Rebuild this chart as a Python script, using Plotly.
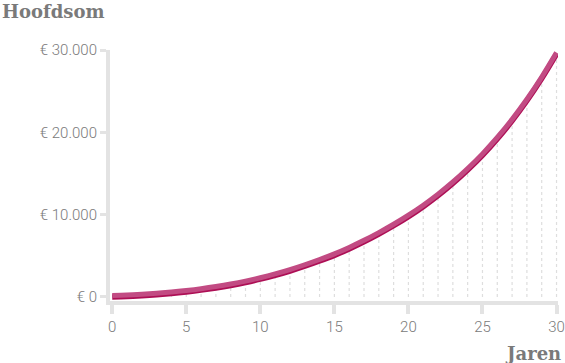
import plotly.graph_objects as go

years = list(range(0, 31))
hoofdsom = [0, 50, 135, 255, 410, 600, 820, 1080, 1385, 1740, 2150,
            2615, 3140, 3725, 4360, 5050, 5830, 6690, 7630, 8645, 9750,
            10965, 12305, 13785, 15415, 17200, 19190, 21390, 23830, 26530, 29500]

x_tickvals = [0, 5, 10, 15, 20, 25, 30]
y_tickvals = [0, 10000, 20000, 30000]
y_ticktext = ["€ 0", "€ 10.000", "€ 20.000", "€ 30.000"]

# dotted drop lines under the curve
dx, dy = [], []
for xv, yv in zip(years[1:], hoofdsom[1:]):
    dx += [xv, xv, None]
    dy += [0, yv, None]

Y_RANGE = [-500, 30000]
shift = 180  # ~1.5px vertical offset for the lighter stroke

W, H = 565, 363
L, R, T, B = 110, 7, 50, 62
PW, PH = W - L - R, H - T - B

fig = go.Figure()
fig.add_trace(go.Scatter(x=dx, y=dy, mode="lines",
                         line=dict(color="#dedede", width=1.2, dash="dot"),
                         hoverinfo="skip", showlegend=False))
fig.add_trace(go.Scatter(x=years, y=hoofdsom, mode="lines",
                         line=dict(color="#ad0f55", width=5.5, shape="spline"),
                         showlegend=False))
fig.add_trace(go.Scatter(x=years, y=hoofdsom, mode="lines", yaxis="y2",
                         line=dict(color="#c24b83", width=5, shape="spline"),
                         showlegend=False))

fig.update_layout(
    width=W, height=H,
    margin=dict(l=L, r=R, t=T, b=B, autoexpand=False),
    paper_bgcolor="white", plot_bgcolor="white",
    font=dict(family="Roboto", size=15, color="#7d7d7d"),
    xaxis=dict(range=[-0.15, 30.1], tickvals=x_tickvals,
               showgrid=False, zeroline=False, automargin=False,
               showline=True, linecolor="#e3e3e3", linewidth=4,
               ticks="outside", ticklen=9, tickwidth=4, tickcolor="#e3e3e3",
               ticklabeloverflow="allow",
               tickfont=dict(size=15, color="#7a7a7a", weight=300)),
    yaxis=dict(range=Y_RANGE, tickvals=y_tickvals, ticktext=y_ticktext,
               showgrid=False, zeroline=False, automargin=False,
               showline=True, linecolor="#e3e3e3", linewidth=4,
               ticks="outside", ticklen=6, tickwidth=3, tickcolor="#e3e3e3",
               tickfont=dict(size=15, color="#7a7a7a", weight=300)),
    yaxis2=dict(range=[Y_RANGE[0] - shift, Y_RANGE[1] - shift], overlaying="y",
                visible=False),
    annotations=[
        dict(text="<b>Hoofdsom</b>", xref="paper", yref="paper",
             x=-L / PW, y=1 + (T - 12) / PH, xanchor="left", yanchor="middle",
             showarrow=False,
             font=dict(family="DejaVu Serif", size=18, color="#7a7a7a")),
        dict(text="<b>Jaren</b>", xref="paper", yref="paper",
             x=(563 - L) / PW, y=-(353 - (H - B)) / PH, xanchor="right", yanchor="middle",
             showarrow=False,
             font=dict(family="DejaVu Serif", size=18, color="#7a7a7a")),
    ],
)

fig.write_html("out.html", config={"displayModeBar": False},
               post_script="document.body.style.margin='0';document.body.style.overflow='hidden';")
